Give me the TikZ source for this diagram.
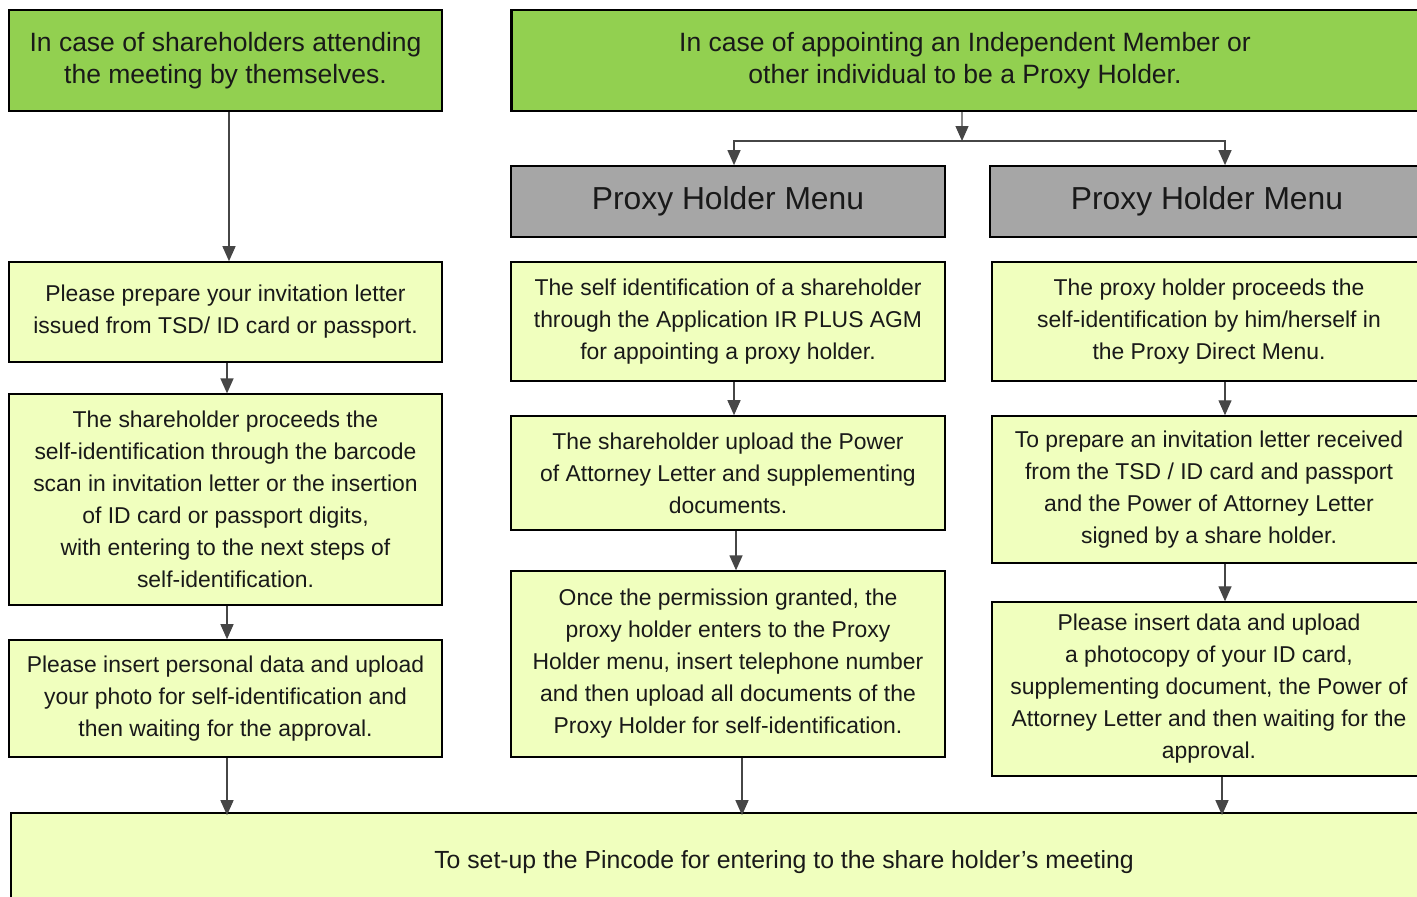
\documentclass[tikz,border=0pt]{standalone}
\usepackage{fontspec}
\setmainfont{Liberation Sans}
\usetikzlibrary{arrows.meta}
\definecolor{hdrgreen}{RGB}{146,208,80}
\definecolor{menugray}{RGB}{166,166,166}
\definecolor{lightbox}{RGB}{240,255,190}
\definecolor{arrowgray}{RGB}{70,70,70}
\tikzset{
  box/.style={draw=black, line width=2bp, rectangle, inner sep=0pt, align=center, text=black!90},
  hdr/.style={box, fill=hdrgreen, line width=2.6bp, font=\fontsize{26.5bp}{32bp}\selectfont},
  menu/.style={box, fill=menugray, font=\fontsize{31.8bp}{36bp}\selectfont},
  body/.style={box, fill=lightbox, font=\fontsize{22.9bp}{32bp}\selectfont},
  txt/.style={inner sep=0pt, align=center, text=black!90, font=\fontsize{24.8bp}{32bp}\selectfont},
  arr/.style={draw=arrowgray, line width=1.3bp, -{Triangle[length=15bp,width=13bp]}, arrowgray}
}
\begin{document}
\begin{tikzpicture}[x=1bp,y=-1bp]
\useasboundingbox (0,0) rectangle (1417,896);
\clip (0,0) rectangle (1417,896);
\fill[white] (0,0) rectangle (1417,896);
% left column
\node[hdr, minimum width=435, minimum height=101] (h1) at (225.5,60.5)
  {In case of shareholders attending\\the meeting by themselves.};
\node[body, minimum width=435, minimum height=100] (l1) at (225.5,312)
  {Please prepare your invitation letter\\issued from TSD/ ID card or passport.};
\node[body, minimum width=435, minimum height=211] (l2) at (225.5,499.5)
  {The shareholder proceeds the\\self-identification through the barcode\\scan in invitation letter or the insertion\\of ID card or passport digits,\\with entering to the next steps of\\self-identification.};
\node[body, minimum width=435, minimum height=117] (l3) at (225.5,698.5)
  {Please insert personal data and upload\\your photo for self-identification and\\then waiting for the approval.};
% right header
\node[hdr, minimum width=910, minimum height=101] (h2) at (965,60.5)
  {In case of appointing an Independent Member or\\other individual to be a Proxy Holder.};
% middle column
\node[menu, minimum width=436, minimum height=71] (m0) at (728,201.5) {Proxy Holder Menu};
\node[body, minimum width=436, minimum height=119] (m1) at (728,321.5)
  {The self identification of a shareholder\\through the Application IR PLUS AGM\\for appointing a proxy holder.};
\node[body, minimum width=436, minimum height=114] (m2) at (728,473)
  {The shareholder upload the Power\\of Attorney Letter and supplementing\\documents.};
\node[body, minimum width=436, minimum height=186] (m3) at (728,664)
  {Once the permission granted, the\\proxy holder enters to the Proxy\\Holder menu, insert telephone number\\and then upload all documents of the\\Proxy Holder for self-identification.};
% right column
\node[menu, minimum width=436, minimum height=71] (r0) at (1207,201.5) {Proxy Holder Menu};
\node[body, minimum width=436, minimum height=119] (r1) at (1209,321.5)
  {The proxy holder proceeds the\\self-identification by him/herself in\\the Proxy Direct Menu.};
\node[body, minimum width=436, minimum height=147] (r2) at (1209,489.5)
  {To prepare an invitation letter received\\from the TSD / ID card and passport\\and the Power of Attorney Letter\\signed by a share holder.};
\node[body, minimum width=436, minimum height=174] (r3) at (1209,689)
  {Please insert data and upload\\a photocopy of your ID card,\\supplementing document, the Power of\\Attorney Letter and then waiting for the\\approval.};
% bottom
\node[body, minimum width=1422, minimum height=94] (bot) at (719,860) {};
\node[txt] (bott) at (784,862) {To set-up the Pincode for entering to the share holder’s meeting};
% connectors
\draw[arr] ([xshift=3.5bp]h1.south) -- ([xshift=3.5bp]l1.north);
\draw[arr] ([xshift=1.5bp]l1.south) -- ([xshift=1.5bp]l2.north);
\draw[arr] ([xshift=1.5bp]l2.south) -- ([xshift=1.5bp]l3.north);
\draw[arr] ([xshift=1.5bp]l3.south) -- ([xshift=1.5bp,yshift=-3bp]l3.south |- bot.north);
\coordinate (split) at (962,141);
\draw[arr] ([xshift=-3bp]h2.south) -- (split);
\draw[arr] (split) -| ([xshift=6bp]m0.north);
\draw[arr] (split) -| ([xshift=18bp]r0.north);
\draw[arr] ([xshift=6bp]m1.south) -- ([xshift=6bp]m2.north);
\draw[arr] ([xshift=8bp]m2.south) -- ([xshift=8bp]m3.north);
\draw[arr] ([xshift=14bp]m3.south) -- ([xshift=14bp,yshift=-3bp]m3.south |- bot.north);
\draw[arr] ([xshift=16bp]r1.south) -- ([xshift=16bp]r2.north);
\draw[arr] ([xshift=16bp]r2.south) -- ([xshift=16bp]r3.north);
\draw[arr] ([xshift=13bp]r3.south) -- ([xshift=13bp,yshift=-3bp]r3.south |- bot.north);
\end{tikzpicture}
\end{document}
